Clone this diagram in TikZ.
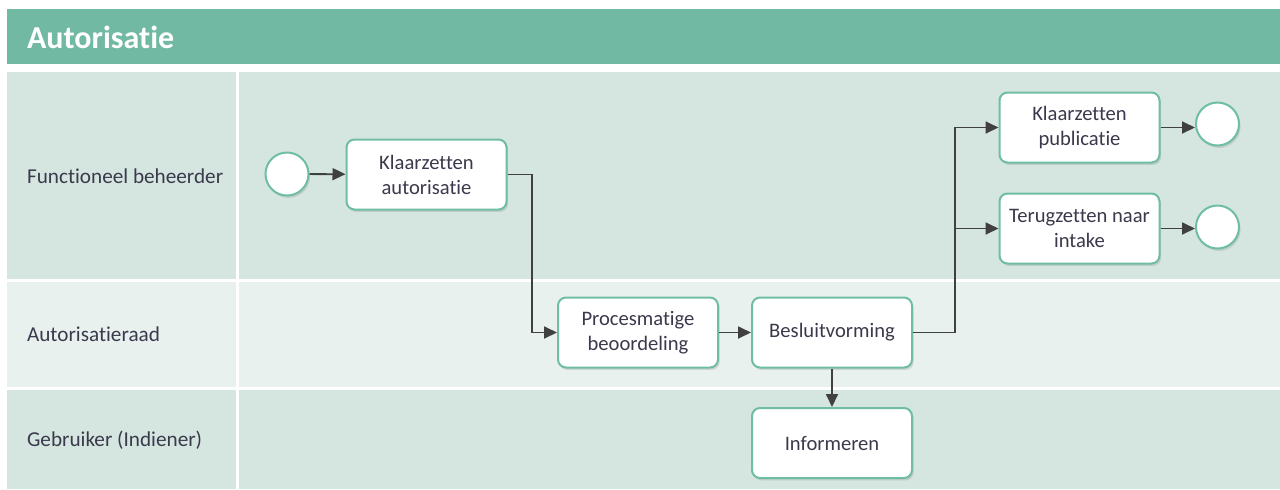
\documentclass[tikz,border=0pt]{standalone}
\usepackage{fontspec}
\setmainfont{Carlito}[Ligatures=NoCommon]
\usetikzlibrary{arrows.meta,shadows}
\definecolor{hdr}{HTML}{72B9A3}
\definecolor{laneA}{HTML}{D5E6E0}
\definecolor{laneB}{HTML}{E8F1EE}
\definecolor{bord}{HTML}{6FBEA3}
\definecolor{txt}{HTML}{3A3A4C}
\definecolor{lnc}{HTML}{404040}
\tikzset{
  taskbox/.style={draw=bord, line width=1pt, fill=white, rounded corners=4pt,
    minimum width=80pt, minimum height=35pt, align=center, text=txt,
    font=\fontsize{10.3}{12.5}\selectfont, inner sep=1pt,
    drop shadow={shadow xshift=0.8pt, shadow yshift=-1.2pt, opacity=0.25}},
  evt/.style={circle, draw=bord, line width=1pt, fill=white, minimum size=21.5pt, inner sep=0pt,
    drop shadow={shadow xshift=0.8pt, shadow yshift=-1.2pt, opacity=0.25}},
  lanelabel/.style={anchor=west, text=txt, font=\fontsize{10.6}{12.5}\selectfont},
  arr/.style={draw=lnc, line width=0.9pt, -{Triangle[length=6.5pt,width=6pt]}},
}
\begin{document}
\begin{tikzpicture}[x=0.5pt,y=-0.5pt]
\useasboundingbox (0,0) rectangle (1280,489);
\fill[white] (0,0) rectangle (1280,489);
% header
\fill[hdr] (7,9) rectangle (1280,64);
\node[anchor=west, text=white, font=\fontsize{16}{18}\selectfont\bfseries] (title) at (20,37) {Autorisatie};
% lanes
\fill[laneA] (7,72) rectangle (236,279);
\fill[laneA] (239,72) rectangle (1280,279);
\fill[laneB] (7,282) rectangle (236,387);
\fill[laneB] (239,282) rectangle (1280,387);
\fill[laneA] (7,390) rectangle (236,489);
\fill[laneA] (239,390) rectangle (1280,489);
\node[lanelabel] (l1) at (20,176) {Functioneel beheerder};
\node[lanelabel] (l2) at (20,334) {Autorisatieraad};
\node[lanelabel] (l3) at (20,440) {Gebruiker (Indiener)};
% nodes
\node[evt] (s) at (287,174) {};
\node[taskbox] (k1) at (426.5,174.5) {Klaarzetten\\autorisatie};
\node[taskbox] (p) at (638,332.5) {Procesmatige\\beoordeling};
\node[taskbox] (b) at (832,332.5) {Besluitvorming};
\node[taskbox] (inf) at (832,443) {Informeren};
\node[taskbox] (kp) at (1079.5,127.5) {Klaarzetten\\publicatie};
\node[taskbox] (tn) at (1079.5,228.5) {Terugzetten naar\\intake};
\node[evt] (e1) at (1217.5,124) {};
\node[evt] (e2) at (1217.5,227) {};
% connectors
\coordinate (j1) at (532,332.5);
\coordinate (j2) at (955,127.5);
\draw[arr] (s) -- (k1);
\draw[arr] (k1.east) -| (j1) -- (p.west);
\draw[arr] (p) -- (b);
\draw[arr] (b) -- (inf);
\draw[arr] (b.east) -| (j2) -- (kp.west);
\draw[arr] (j2 |- tn.west) -- (tn.west);
\draw[arr] (kp.east) -- (kp.east -| e1.west);
\draw[arr] (tn.east) -- (tn.east -| e2.west);
\end{tikzpicture}
\end{document}
